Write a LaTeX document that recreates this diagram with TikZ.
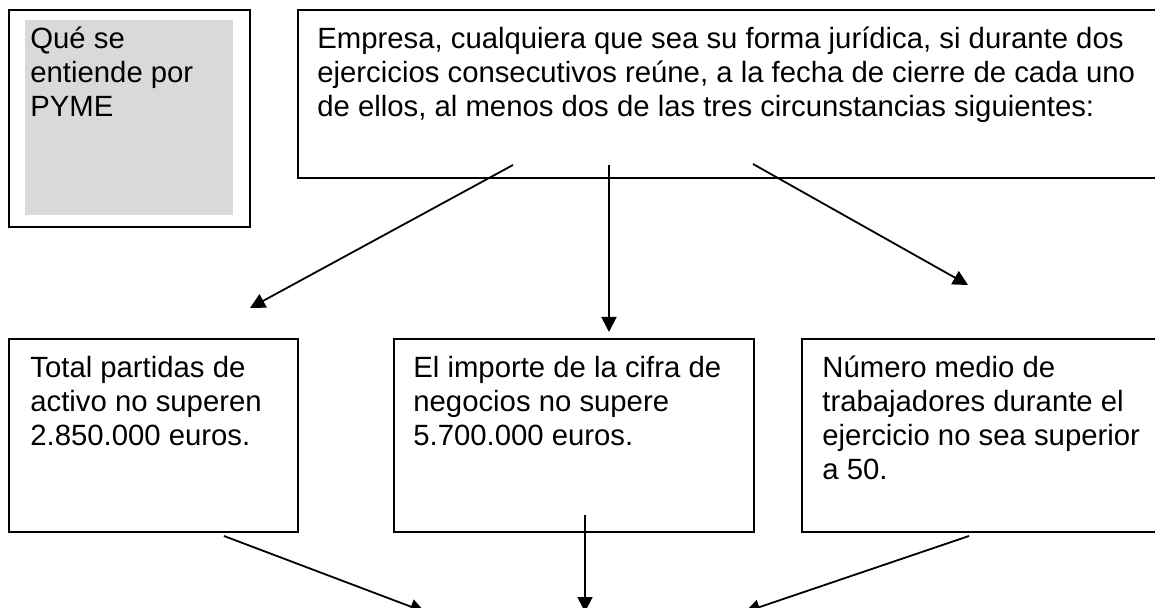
\documentclass[tikz,border=0pt]{standalone}
\usepackage{fontspec}
\setmainfont{Liberation Sans}
\usetikzlibrary{arrows.meta,positioning}

\definecolor{pymegray}{RGB}{217,217,217}
\newcommand{\firstline}{\rule{0pt}{14pt}}

\begin{document}
\begin{tikzpicture}[
    x=0.5pt, y=-0.5pt,
    box/.style={draw, line width=1pt, anchor=north west, inner sep=0pt},
    txt/.style={anchor=north west, inner sep=0pt, align=left,
        font=\fontsize{14.65}{17}\selectfont},
    arr/.style={-{Triangle[length=7.5pt, width=7.5pt]}, line width=0.9pt},
    >=Latex
]

\useasboundingbox (0,0) rectangle (1155,608);
\clip (0,0) rectangle (1155,608);

% boxes
\node[box, minimum width=120.5pt, minimum height=108.5pt] (pyme) at (8,9) {};
\node[anchor=north west, inner sep=0pt, fill=pymegray,
    minimum width=104pt, minimum height=97.5pt] (gris) at (25,20) {};
\node[box, minimum width=434pt, minimum height=84pt] (empresa) at (297,9) {};

\node[box, minimum width=144.5pt, minimum height=96.5pt] (activo) at (8,338) {};
\node[box, minimum width=180pt, minimum height=96.5pt] (negocios) at (393,338) {};
\node[box, minimum width=182pt, minimum height=96.5pt] (trabaj) at (801,338) {};

% texts (first baseline 19.5pt below the box top)
\node[txt] (tpyme) at ([shift={(11pt,-5.5pt)}]pyme.north west)
    {\firstline Qué se\\entiende por\\PYME};
\node[txt] (tempresa) at ([shift={(10pt,-5.5pt)}]empresa.north west)
    {\firstline Empresa, cualquiera que sea su forma jurídica, si durante dos\\
     ejercicios consecutivos reúne, a la fecha de cierre de cada uno\\
     de ellos, al menos dos de las tres circunstancias siguientes:};
\node[txt] (tactivo) at ([shift={(11pt,-5.5pt)}]activo.north west)
    {\firstline Total partidas de\\activo no superen\\2.850.000 euros.};
\node[txt] (tnegocios) at ([shift={(10pt,-5.5pt)}]negocios.north west)
    {\firstline El importe de la cifra de\\negocios no supere\\5.700.000 euros.};
\node[txt] (ttrabaj) at ([shift={(10.5pt,-5.5pt)}]trabaj.north west)
    {\firstline Número medio de\\trabajadores durante el\\ejercicio no sea superior\\a 50.};

% arrow ends
\coordinate (s1) at (513,165);
\coordinate (s2) at (609,165);
\coordinate (s3) at (753,164);
\coordinate (e1) at (250,308);
\coordinate (e2) at (609,332);
\coordinate (e3) at (968,285);

\coordinate (s4) at (224,536);
\coordinate (s5) at (585,515);
\coordinate (s6) at (969,536);
\coordinate (e4) at (425,612);
\coordinate (e5) at (585,612);
\coordinate (e6) at (745,612);

\draw[arr] (s1) -- (e1);
\draw[arr] (s2) -- (e2);
\draw[arr] (s3) -- (e3);

\draw[arr] (s4) -- (e4);
\draw[arr] (s5) -- (e5);
\draw[arr] (s6) -- (e6);

\end{tikzpicture}
\end{document}
